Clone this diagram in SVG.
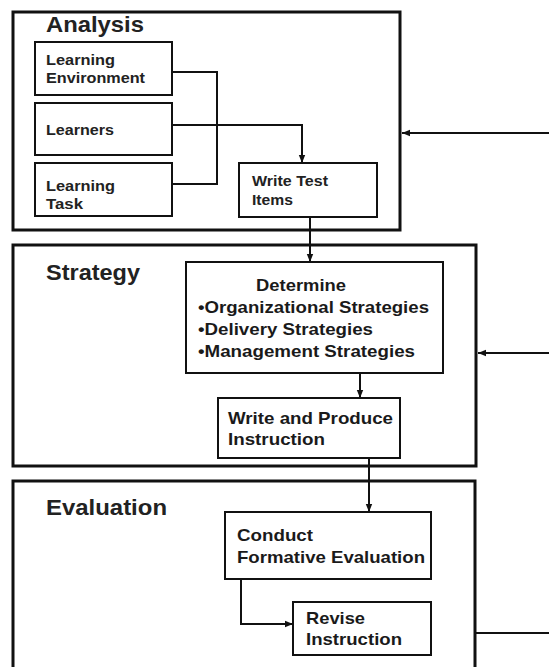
<svg xmlns="http://www.w3.org/2000/svg" width="549" height="667" viewBox="0 0 549 667">
  <defs>
    <marker id="arrow" viewBox="0 0 8 8" refX="8" refY="4" markerWidth="8" markerHeight="8" markerUnits="userSpaceOnUse" orient="auto">
      <path d="M0,0.8 L8,4 L0,7.2 Z" fill="#111"/>
    </marker>
    <style>
      .phase { fill: #fff; stroke: #111; stroke-width: 3; }
      .step { fill: #fff; stroke: #111; stroke-width: 2; }
      .title { font-family: "Liberation Sans", Arial, sans-serif; font-weight: bold; font-size: 22px; fill: #222; }
      .lbl { font-family: "Liberation Sans", Arial, sans-serif; font-weight: bold; font-size: 15px; fill: #222; }
      .big { font-family: "Liberation Sans", Arial, sans-serif; font-weight: bold; font-size: 17px; fill: #1a1a1a; }
      .wire { fill: none; stroke: #111; stroke-width: 2; }
      .arr { marker-end: url(#arrow); }
    </style>
  </defs>

  <rect width="549" height="667" fill="#fff"/>

  <!-- phase frames -->
  <g id="analysis">
    <rect class="phase" x="13" y="12" width="387" height="218"/>
    <text class="title" x="46" y="32" textLength="98" lengthAdjust="spacingAndGlyphs">Analysis</text>
  </g>
  <g id="strategy">
    <rect class="phase" x="13" y="245" width="463" height="221"/>
    <text class="title" x="46" y="280" textLength="94" lengthAdjust="spacingAndGlyphs">Strategy</text>
  </g>
  <g id="evaluation">
    <rect class="phase" x="13" y="481" width="462" height="200"/>
    <text class="title" x="46" y="515" textLength="121" lengthAdjust="spacingAndGlyphs">Evaluation</text>
  </g>

  <!-- connectors -->
  <g id="connectors">
    <path class="wire" d="M172,72 H217 V184 H172"/>
    <path class="wire arr" d="M172,125 H302 V163"/>
    <path class="wire arr" d="M310,217 V262"/>
    <path class="wire arr" d="M360,373 V398"/>
    <path class="wire arr" d="M369,458 V512"/>
    <path class="wire arr" d="M241,579 V624 H293"/>
    <path class="wire arr" d="M549,133 H402"/>
    <path class="wire arr" d="M549,353 H478"/>
    <path class="wire" d="M475,633 H549"/>
  </g>

  <!-- analysis steps -->
  <g id="learning-environment">
    <rect class="step" x="35" y="42" width="137" height="53"/>
    <text class="lbl" x="46" y="65" textLength="69" lengthAdjust="spacingAndGlyphs">Learning</text>
    <text class="lbl" x="46" y="83" textLength="99" lengthAdjust="spacingAndGlyphs">Environment</text>
  </g>
  <g id="learners">
    <rect class="step" x="35" y="103" width="137" height="52"/>
    <text class="lbl" x="46" y="135" textLength="68" lengthAdjust="spacingAndGlyphs">Learners</text>
  </g>
  <g id="learning-task">
    <rect class="step" x="35" y="163" width="137" height="53"/>
    <text class="lbl" x="46" y="191" textLength="69" lengthAdjust="spacingAndGlyphs">Learning</text>
    <text class="lbl" x="46" y="209" textLength="37" lengthAdjust="spacingAndGlyphs">Task</text>
  </g>
  <g id="write-test-items">
    <rect class="step" x="239" y="163" width="138" height="54"/>
    <text class="lbl" x="252" y="186" textLength="76" lengthAdjust="spacingAndGlyphs">Write Test</text>
    <text class="lbl" x="252" y="205" textLength="41" lengthAdjust="spacingAndGlyphs">Items</text>
  </g>

  <!-- strategy steps -->
  <g id="determine">
    <rect class="step" x="186" y="262" width="257" height="111"/>
    <text class="big" x="256" y="291" textLength="90" lengthAdjust="spacingAndGlyphs">Determine</text>
    <text class="big" x="198" y="313" textLength="231" lengthAdjust="spacingAndGlyphs">•Organizational Strategies</text>
    <text class="big" x="198" y="335" textLength="175" lengthAdjust="spacingAndGlyphs">•Delivery Strategies</text>
    <text class="big" x="198" y="357" textLength="217" lengthAdjust="spacingAndGlyphs">•Management Strategies</text>
  </g>
  <g id="write-produce">
    <rect class="step" x="218" y="398" width="182" height="60"/>
    <text class="big" x="228" y="424" textLength="165" lengthAdjust="spacingAndGlyphs">Write and Produce</text>
    <text class="big" x="228" y="445" textLength="97" lengthAdjust="spacingAndGlyphs">Instruction</text>
  </g>

  <!-- evaluation steps -->
  <g id="formative-evaluation">
    <rect class="step" x="225" y="512" width="206" height="67"/>
    <text class="big" x="237" y="541" textLength="76" lengthAdjust="spacingAndGlyphs">Conduct</text>
    <text class="big" x="237" y="563" textLength="188" lengthAdjust="spacingAndGlyphs">Formative Evaluation</text>
  </g>
  <g id="revise-instruction">
    <rect class="step" x="293" y="602" width="138" height="53"/>
    <text class="big" x="306" y="624" textLength="59" lengthAdjust="spacingAndGlyphs">Revise</text>
    <text class="big" x="306" y="645" textLength="96" lengthAdjust="spacingAndGlyphs">Instruction</text>
  </g>
</svg>
